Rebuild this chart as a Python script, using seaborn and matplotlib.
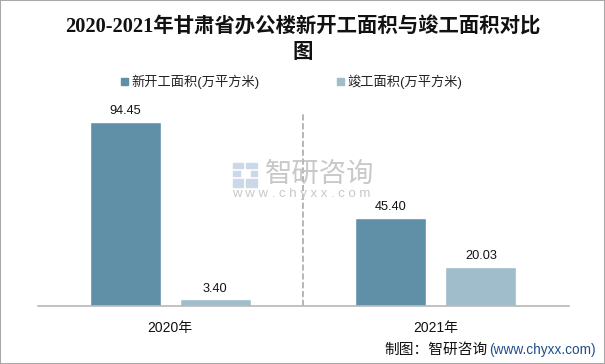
"""
2020-2021 Gansu office building area comparison
"""
import matplotlib
matplotlib.use("Agg")
import matplotlib.pyplot as plt
from matplotlib.patches import Rectangle
import pandas as pd
import seaborn as sns

years = ['2020年', '2021年']
started = [94.45, 45.40]
finished = [3.40, 20.03]
series_names = ['新开工面积(万平方米)', '竣工面积(万平方米)']
series_colors = ['#5F90A8', '#9FBDCA']
title_lines = ['2020-2021年甘肃省办公楼新开工面积与竣工面积对比', '图']

W, H = 605, 364

sns.set_theme(style="white")
plt.rcParams['font.family'] = ['Liberation Sans', 'Noto Sans CJK SC']

df = pd.DataFrame({
    'year': years * 2,
    'area': started + finished,
    'series': [series_names[0]] * 2 + [series_names[1]] * 2,
})

fig = plt.figure(figsize=(W / 100, H / 100), dpi=100)
ax = fig.add_axes([37.5 / W, 1 - 306 / H, 531 / W, 194.5 / H])

sns.barplot(data=df, x='year', y='area', hue='series', hue_order=series_names,
            palette=series_colors, width=0.679, gap=0.215, saturation=1,
            legend=False, ax=ax)

ax.set_xlim(-0.5, 1.5)
ax.set_ylim(0, 100)
ax.set_xlabel('')
ax.set_ylabel('')
ax.set_yticks([])
ax.tick_params(axis='x', length=0, labelsize=10, labelcolor='#111111', pad=11)
sns.despine(ax=ax, left=True)
ax.spines['bottom'].set_color('#B8B8B8')
ax.spines['bottom'].set_linewidth(1.2)

# value labels
for container in ax.containers:
    ax.bar_label(container, fmt='%.2f', padding=3.5, fontsize=9.2, color='#111111')

# divider between the two years
ax.axvline(0.5, color='#AAAAAA', linestyle='--', linewidth=1.2)

# legend drawn by hand in figure pixels
for x, name, color in zip([121, 337], series_names, series_colors):
    fig.patches.append(Rectangle((x / W, 1 - 85 / H), 7 / W, 7 / H, color=color,
                                 transform=fig.transFigure))
    fig.text((x + 10) / W, 1 - 82 / H, name, fontsize=9.5, color='#222222', va='center')

fig.text(302.5 / W, 1 - 27 / H, title_lines[0], fontsize=14.7, fontweight='bold',
         ha='center', va='center', color='#111111',
         family=['Liberation Serif', 'Noto Sans CJK SC'])
fig.text(302.5 / W, 1 - 52 / H, title_lines[1], fontsize=14.7, fontweight='bold',
         ha='center', va='center', color='#111111',
         family=['Noto Sans CJK SC'])

# watermark
for x, y, w, h in [(233, 163, 10, 5), (233, 171, 7, 5), (233, 179, 10, 8), (246, 163, 11, 5),
                   (251, 171, 6, 5), (246, 179, 11, 8)]:
    fig.patches.append(Rectangle((x / W, 1 - (y + h) / H), w / W, h / H, color='#CBD8E8',
                                 transform=fig.transFigure))
fig.text(265 / W, 1 - 175 / H, '智研咨询', fontsize=19.7, color='#C8C8C8', va='center')
fig.text(232 / W, 1 - 194 / H, 'w w w . c h y x x . c o m', fontsize=9.5, color='#C8C8C8', va='center')

# source line
fig.text(384 / W, 1 - 350 / H, '制图：智研咨询', fontsize=10.6, color='#111111', va='center')
fig.text(489 / W, 1 - 350 / H, '(www.chyxx.com)', fontsize=9.8, color='#1F4E8C', va='center')

# image border
fig.patches.append(Rectangle((0, 0), 1, 1, fill=False, edgecolor='#A8A8A8', linewidth=1.5,
                             transform=fig.transFigure))

fig.savefig('out.png', dpi=100)
